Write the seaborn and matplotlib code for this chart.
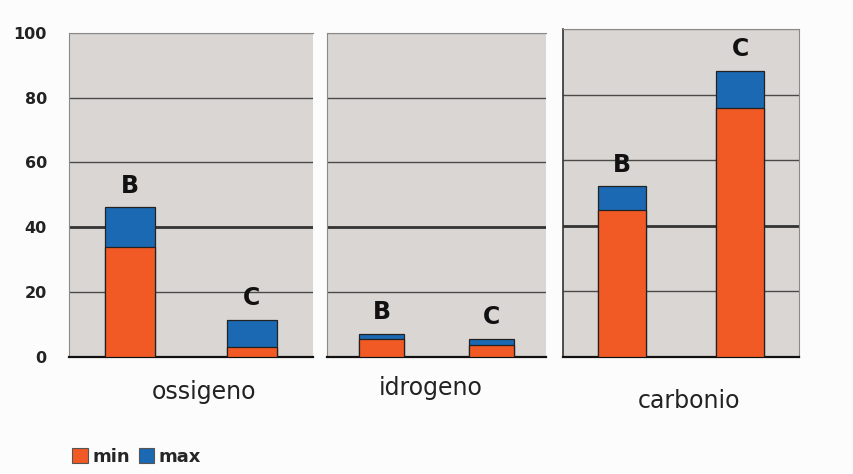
import matplotlib
matplotlib.use("Agg")
import matplotlib.pyplot as plt
from matplotlib.patches import Patch
import seaborn as sns
import pandas as pd

# ---- data ----
elements = ["ossigeno", "idrogeno", "carbonio"]
samples = ["B", "C"]
min_vals = {"ossigeno": [34.0, 2.9], "idrogeno": [5.6, 3.6], "carbonio": [44.7, 76.0]}
max_vals = {"ossigeno": [46.1, 11.3], "idrogeno": [7.0, 5.5], "carbonio": [52.0, 87.4]}
y_ticks = [0, 20, 40, 60, 80, 100]

ORANGE = "#F15A24"
BLUE = "#1B69B3"
PANEL_BG = "#DAD6D4"

sns.set_theme(style="white")
plt.rcParams["font.family"] = ["DejaVu Sans"]

fig = plt.figure(figsize=(8.54, 4.74), dpi=100)
fig.patch.set_facecolor("#FCFCFD")

# panel positions (left, bottom, width, height) in figure fraction
positions = [
    (0.0808, 0.2475, 0.2857, 0.6835),
    (0.3830, 0.2475, 0.2564, 0.6835),
    (0.6595, 0.2475, 0.2763, 0.6905),
]
label_pos = [(0.2389, 0.158), (0.5047, 0.1667), (0.8068, 0.139)]

for i, el in enumerate(elements):
    ax = fig.add_axes(positions[i])
    ax.set_facecolor(PANEL_BG)
    df = pd.DataFrame({"sample": samples, "min": min_vals[el], "max": max_vals[el]})
    sns.barplot(data=df, x="sample", y="max", color=BLUE, width=0.41,
                edgecolor="#222222", linewidth=0.9, saturation=1, ax=ax, zorder=3)
    sns.barplot(data=df, x="sample", y="min", color=ORANGE, width=0.41,
                edgecolor="#222222", linewidth=0.9, saturation=1, ax=ax, zorder=4)
    ax.set_xlim(-0.5, 1.5)
    ax.set_ylim(0, 100)
    ax.set_yticks(y_ticks)
    ax.yaxis.grid(True, color="#4a4a4a", linewidth=1.0, zorder=1)
    ax.set_axisbelow(True)
    gl = ax.get_ygridlines()
    gl[2].set_linewidth(2.0)
    gl[2].set_color("#333333")
    gl[-1].set_color("#9a9a9a")
    gl[0].set_visible(False)
    ax.set_xlabel("")
    ax.set_ylabel("")
    ax.set_xticks([])
    if i == 0:
        ax.set_yticklabels([str(t) for t in y_ticks], fontsize=11.5, fontweight="bold",
                           color="#222222")
        ax.tick_params(axis="y", length=0, pad=16)
    else:
        ax.set_yticklabels([])
        ax.tick_params(axis="y", length=0)
    for side in ["left", "right", "top"]:
        ax.spines[side].set_color("#8a8a8a")
        ax.spines[side].set_linewidth(0.8)
    ax.spines["right"].set_visible(i == 2)
    ax.spines["bottom"].set_color("#111111")
    ax.spines["bottom"].set_linewidth(1.6)
    if i == 2:
        ax.spines["left"].set_color("#333333")
        ax.spines["left"].set_linewidth(1.2)
    # B / C labels above bars
    for j, s in enumerate(samples):
        ax.annotate(s, (j, max_vals[el][j]), xytext=(0, 7), textcoords="offset points",
                    ha="center", va="bottom", fontsize=17, fontweight="heavy",
                    color="#111111")
    fig.text(label_pos[i][0], label_pos[i][1], el, ha="center", va="baseline",
             fontsize=17, color="#222222")

handles = [Patch(facecolor=ORANGE, edgecolor="#555555", linewidth=0.8),
           Patch(facecolor=BLUE, edgecolor="#555555", linewidth=0.8)]
fig.legend(handles, ["min", "max"], loc="lower left", bbox_to_anchor=(0.072, -0.005),
           ncol=2, frameon=False, prop={"size": 13, "weight": "bold"},
           handlelength=0.85, handleheight=0.9, borderaxespad=0.2,
           handletextpad=0.25, columnspacing=0.5)

fig.savefig("out.png", dpi=100, facecolor=fig.get_facecolor())
